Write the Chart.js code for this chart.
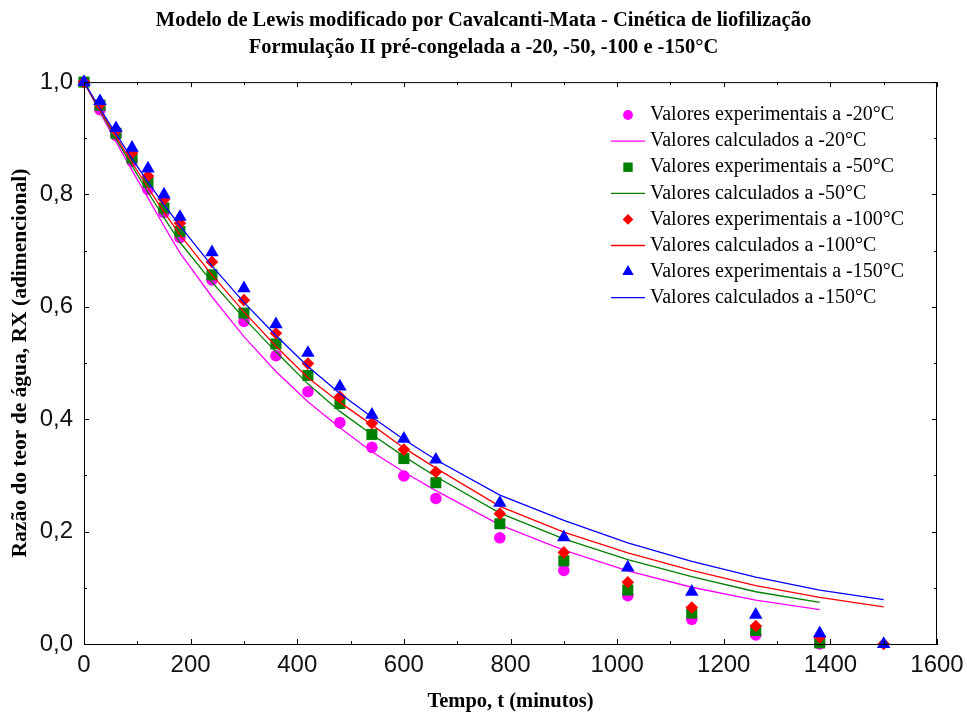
<!DOCTYPE html>
<html>
<head>
<meta charset="utf-8">
<script src="https://cdn.jsdelivr.net/npm/chart.js@4.4.1/dist/chart.umd.min.js"></script>
<style>
  html, body { margin: 0; padding: 0; background: #ffffff; }
  #wrap { width: 967px; height: 714px; }
</style>
</head>
<body>
<div id="wrap"><canvas id="chart" width="967" height="714"></canvas></div>
<script>
// Drying time (minutes) at which moisture ratio was measured / calculated
const expTimes = [0, 30, 60, 90, 120, 150, 180, 240, 300, 360, 420, 480, 540, 600, 660, 780, 900, 1020, 1140, 1260, 1380, 1500];
const calcTimes = [0, 30, 60, 90, 120, 150, 180, 240, 300, 360, 420, 480, 540, 600, 660, 780, 900, 1020, 1140, 1260, 1380, 1500];

// Experimental moisture ratio RX
const expM20  = [1.000, 0.951, 0.905, 0.859, 0.809, 0.768, 0.723, 0.648, 0.574, 0.513, 0.449, 0.394, 0.350, 0.299, 0.259, 0.189, 0.131, 0.086, 0.044, 0.016, 0.000];
const expM50  = [1.000, 0.959, 0.909, 0.865, 0.822, 0.776, 0.734, 0.657, 0.589, 0.534, 0.478, 0.428, 0.373, 0.330, 0.287, 0.214, 0.148, 0.096, 0.055, 0.024, 0.002];
const expM100 = [1.000, 0.960, 0.913, 0.874, 0.833, 0.791, 0.749, 0.680, 0.612, 0.553, 0.499, 0.440, 0.393, 0.346, 0.306, 0.232, 0.163, 0.110, 0.065, 0.032, 0.012, 0.000];
const expM150 = [1.000, 0.966, 0.918, 0.883, 0.846, 0.800, 0.760, 0.697, 0.633, 0.569, 0.518, 0.458, 0.408, 0.365, 0.328, 0.251, 0.190, 0.136, 0.093, 0.052, 0.019, 0.000];

// Moisture ratio calculated with the modified Lewis model
const calcM20  = [1.000, 0.946, 0.894, 0.843, 0.794, 0.744, 0.696, 0.618, 0.547, 0.485, 0.431, 0.385, 0.342, 0.306, 0.273, 0.212, 0.167, 0.130, 0.101, 0.078, 0.061];
const calcM50  = [1.000, 0.949, 0.899, 0.851, 0.804, 0.759, 0.715, 0.644, 0.580, 0.520, 0.463, 0.414, 0.373, 0.334, 0.298, 0.233, 0.187, 0.150, 0.120, 0.093, 0.074];
const calcM100 = [1.000, 0.951, 0.903, 0.857, 0.812, 0.769, 0.728, 0.657, 0.591, 0.530, 0.474, 0.430, 0.390, 0.349, 0.313, 0.245, 0.199, 0.162, 0.131, 0.104, 0.083, 0.066];
const calcM150 = [1.000, 0.953, 0.908, 0.864, 0.822, 0.782, 0.744, 0.673, 0.608, 0.549, 0.494, 0.446, 0.404, 0.364, 0.328, 0.265, 0.220, 0.180, 0.147, 0.119, 0.096, 0.079];

// Axis tick labels
const xTickLabels = ['0', '200', '400', '600', '800', '1000', '1200', '1400', '1600'];
const yTickLabels = ['0,0', '0,2', '0,4', '0,6', '0,8', '1,0'];

const seriesNames = [
  'Valores experimentais a -20°C', 'Valores calculados a -20°C',
  'Valores experimentais a -50°C', 'Valores calculados a -50°C',
  'Valores experimentais a -100°C', 'Valores calculados a -100°C',
  'Valores experimentais a -150°C', 'Valores calculados a -150°C'
];

const toPoints = (times, values) => values.map((v, i) => ({ x: times[i], y: v }));

const serif = "'Liberation Serif', 'Times New Roman', serif";
const sans = "'Liberation Sans', Arial, sans-serif";

function expSet(label, values, color, style, radius, order) {
  return {
    label, data: toPoints(expTimes, values), showLine: false,
    pointStyle: style, pointRadius: radius, pointHoverRadius: radius,
    backgroundColor: color, borderColor: color, pointBorderWidth: 0,
    clip: false, order
  };
}
function calcSet(label, values, color, order) {
  return {
    label, data: toPoints(calcTimes, values), showLine: true,
    borderColor: color, backgroundColor: color, borderWidth: 1.3,
    pointRadius: 0, tension: 0, fill: false, order
  };
}

// Inward major/minor ticks on all four sides plus the closing frame
const frameTicks = {
  id: 'frameTicks',
  afterDraw(chart) {
    const { ctx, chartArea: a, scales: { x, y } } = chart;
    ctx.save();
    ctx.strokeStyle = '#000';
    ctx.lineWidth = 1;
    ctx.strokeRect(a.left + 0.5, a.top + 0.5, a.right - a.left - 1, a.bottom - a.top);
    ctx.beginPath();
    const xt = x.ticks.map(t => t.value);
    const xStep = xt[1] - xt[0];
    xt.forEach((v, i) => {
      const px = Math.round(x.getPixelForValue(v)) + 0.5;
      ctx.moveTo(px, a.bottom); ctx.lineTo(px, a.bottom - 5);
      ctx.moveTo(px, a.top); ctx.lineTo(px, a.top + 5);
      if (i < xt.length - 1) {
        const pm = Math.round(x.getPixelForValue(v + xStep / 2)) + 0.5;
        ctx.moveTo(pm, a.bottom); ctx.lineTo(pm, a.bottom - 3);
        ctx.moveTo(pm, a.top); ctx.lineTo(pm, a.top + 3);
      }
    });
    const yt = y.ticks.map(t => t.value);
    const yStep = yt[1] - yt[0];
    yt.forEach((v, i) => {
      const py = Math.round(y.getPixelForValue(v)) + 0.5;
      ctx.moveTo(a.left, py); ctx.lineTo(a.left + 5, py);
      ctx.moveTo(a.right, py); ctx.lineTo(a.right - 5, py);
      if (i < yt.length - 1) {
        const pm = Math.round(y.getPixelForValue(v + yStep / 2)) + 0.5;
        ctx.moveTo(a.left, pm); ctx.lineTo(a.left + 3, pm);
        ctx.moveTo(a.right, pm); ctx.lineTo(a.right - 3, pm);
      }
    });
    ctx.stroke();
    ctx.restore();
  }
};

// Legend drawn inside the plot area, markers and line samples to the left of each label
const insideLegend = {
  id: 'insideLegend',
  afterDraw(chart) {
    const { ctx } = chart;
    const x0 = 628, y0 = 115, dy = 26.1;
    ctx.save();
    chart.data.datasets.forEach((ds, i) => {
      const yy = y0 + i * dy;
      if (ds.showLine) {
        ctx.strokeStyle = ds.borderColor;
        ctx.lineWidth = 1.3;
        ctx.beginPath(); ctx.moveTo(611, yy); ctx.lineTo(645, yy); ctx.stroke();
      } else {
        ctx.fillStyle = ds.backgroundColor;
        ctx.strokeStyle = ds.borderColor;
        Chart.helpers.drawPoint(ctx, { pointStyle: ds.pointStyle, radius: ds.pointRadius * 0.85, borderWidth: 0, rotation: 0 }, x0, yy);
      }
      ctx.fillStyle = '#000';
      ctx.font = '20px ' + serif;
      ctx.textBaseline = 'middle';
      ctx.textAlign = 'left';
      ctx.fillText(seriesNames[i], 650, yy);
    });
    ctx.restore();
  }
};

new Chart(document.getElementById('chart'), {
  type: 'scatter',
  data: {
    datasets: [
      expSet(seriesNames[0], expM20, '#ff00ff', 'circle', 5.8, 8),
      calcSet(seriesNames[1], calcM20, '#ff00ff', 7),
      expSet(seriesNames[2], expM50, '#008000', 'rect', 7.8, 6),
      calcSet(seriesNames[3], calcM50, '#008000', 5),
      expSet(seriesNames[4], expM100, '#ff0000', 'rectRot', 6.3, 4),
      calcSet(seriesNames[5], calcM100, '#ff0000', 3),
      expSet(seriesNames[6], expM150, '#0000ff', 'triangle', 7.8, 2),
      calcSet(seriesNames[7], calcM150, '#0000ff', 1)
    ]
  },
  options: {
    responsive: false,
    animation: false,
    devicePixelRatio: 1,
    layout: { padding: 0 },
    plugins: {
      legend: { display: false },
      tooltip: { enabled: false },
      title: {
        display: true,
        text: ['Modelo de Lewis modificado por Cavalcanti-Mata - Cinética de liofilização',
               'Formulação II pré-congelada a -20, -50, -100 e -150°C'],
        color: '#000',
        font: { family: serif, size: 20.5, weight: 'bold', lineHeight: 1.32 },
        padding: { top: 7, bottom: 21 }
      }
    },
    scales: {
      x: {
        type: 'linear', min: 0, max: 1600,
        afterFit(scale) { scale.height = 70; scale.paddingLeft = 0; scale.paddingRight = 30; },
        grid: { display: false, drawTicks: false },
        border: { display: true, color: '#000', width: 1 },
        ticks: {
          stepSize: 200, padding: 7, color: '#111',
          font: { family: sans, size: 24 },
          callback: (v) => xTickLabels[Math.round(v / 200)]
        },
        title: {
          display: true, text: 'Tempo, t (minutos)', color: '#000',
          font: { family: serif, size: 20.5, weight: 'bold', lineHeight: 1.2 },
          padding: { top: 0, bottom: 0 }
        }
      },
      y: {
        type: 'linear', min: 0, max: 1,
        afterFit(scale) { scale.width = 84; scale.paddingTop = 0; scale.paddingBottom = 0; },
        grid: { display: false, drawTicks: false },
        border: { display: true, color: '#000', width: 1 },
        ticks: {
          stepSize: 0.2, padding: 11, color: '#111',
          font: { family: sans, size: 24 },
          callback: (v) => yTickLabels[Math.round(v / 0.2)]
        },
        title: {
          display: true, text: 'Razão do teor de água, RX (adimencional)', color: '#000',
          font: { family: serif, size: 21.5, weight: 'bold', lineHeight: 1.2 },
          padding: { top: 8, bottom: 0 }
        }
      }
    }
  },
  plugins: [frameTicks, insideLegend]
});
</script>
</body>
</html>
